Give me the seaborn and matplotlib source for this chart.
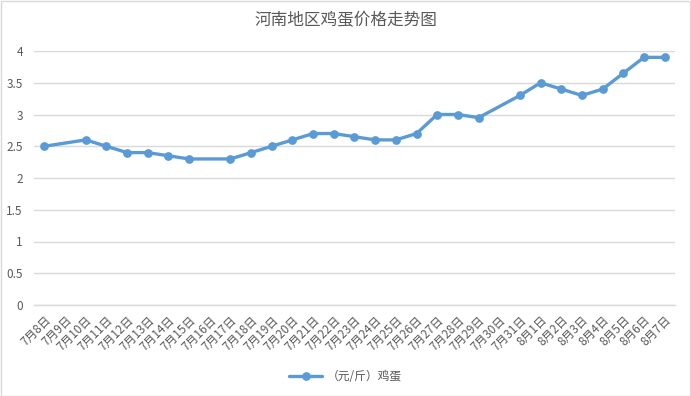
import numpy as np
import pandas as pd
import matplotlib
matplotlib.use("Agg")
import matplotlib.pyplot as plt
import seaborn as sns
from matplotlib.patches import Rectangle

sns.set_style("white")
plt.rcParams["font.family"] = ["Noto Sans CJK SC", "DejaVu Sans"]

TEXT = "#595959"
GRID = "#D9D9D9"
BLUE = "#5B9BD5"

dates = [f"7月{d}日" for d in range(8, 32)] + [f"8月{d}日" for d in range(1, 8)]
prices = [2.5, None, 2.6, 2.5, 2.4, 2.4, 2.35, 2.3, None, 2.3, 2.4, 2.5, 2.6,
          2.7, 2.7, 2.65, 2.6, 2.6, 2.7, 3.0, 3.0, 2.95, None, 3.3,
          3.5, 3.4, 3.3, 3.4, 3.65, 3.9, 3.9]
series_name = "（元/斤）鸡蛋"
y_ticks = [0, 0.5, 1, 1.5, 2, 2.5, 3, 3.5, 4]

df = pd.DataFrame({"date": dates, "price": prices})
df["pos"] = np.arange(len(dates))
df = df.dropna()

fig = plt.figure(figsize=(6.91, 3.96), dpi=100)
ax = fig.add_axes([34 / 691, 1 - 305 / 396, 641 / 691, 254 / 396])

sns.lineplot(data=df, x="pos", y="price", ax=ax, color=BLUE, linewidth=2.4,
             marker="o", markersize=6.3, markeredgewidth=0, label=series_name)

n = len(dates)
ax.set_xlim(-0.5, n - 0.5)
ax.set_ylim(0, 4)
ax.set_yticks(y_ticks)
ax.set_yticklabels([f"{v:g}" for v in y_ticks], fontsize=8.5, color=TEXT)
ax.set_xticks(np.arange(n))
ax.set_xticklabels(dates, rotation=45, ha="right", va="top",
                   rotation_mode="anchor", fontsize=8.5, color=TEXT)
ax.set_xticks(np.arange(n + 1) - 0.5, minor=True)
ax.tick_params(axis="x", which="major", length=0, pad=6)
ax.tick_params(axis="x", which="minor", length=4, color=GRID, width=1)
ax.tick_params(axis="y", length=0, pad=8)
ax.set_xlabel("")
ax.set_ylabel("")

ax.yaxis.grid(True, color=GRID, linewidth=1)
ax.set_axisbelow(True)
for s in ["top", "right", "left"]:
    ax.spines[s].set_visible(False)
ax.spines["bottom"].set_color(GRID)
ax.spines["bottom"].set_linewidth(1)

fig.suptitle("河南地区鸡蛋价格走势图", y=0.97, fontsize=12, color=TEXT)

ax.legend_.remove()
fig.legend(loc="center", bbox_to_anchor=(0.5, 0.05), frameon=False,
           fontsize=8.5, labelcolor=TEXT, handlelength=2.8, handletextpad=0.4)

fig.add_artist(Rectangle((0.001, 0.001), 0.997, 0.997, transform=fig.transFigure,
                         fill=False, edgecolor=GRID, linewidth=1))

fig.savefig("out.png", dpi=100)
